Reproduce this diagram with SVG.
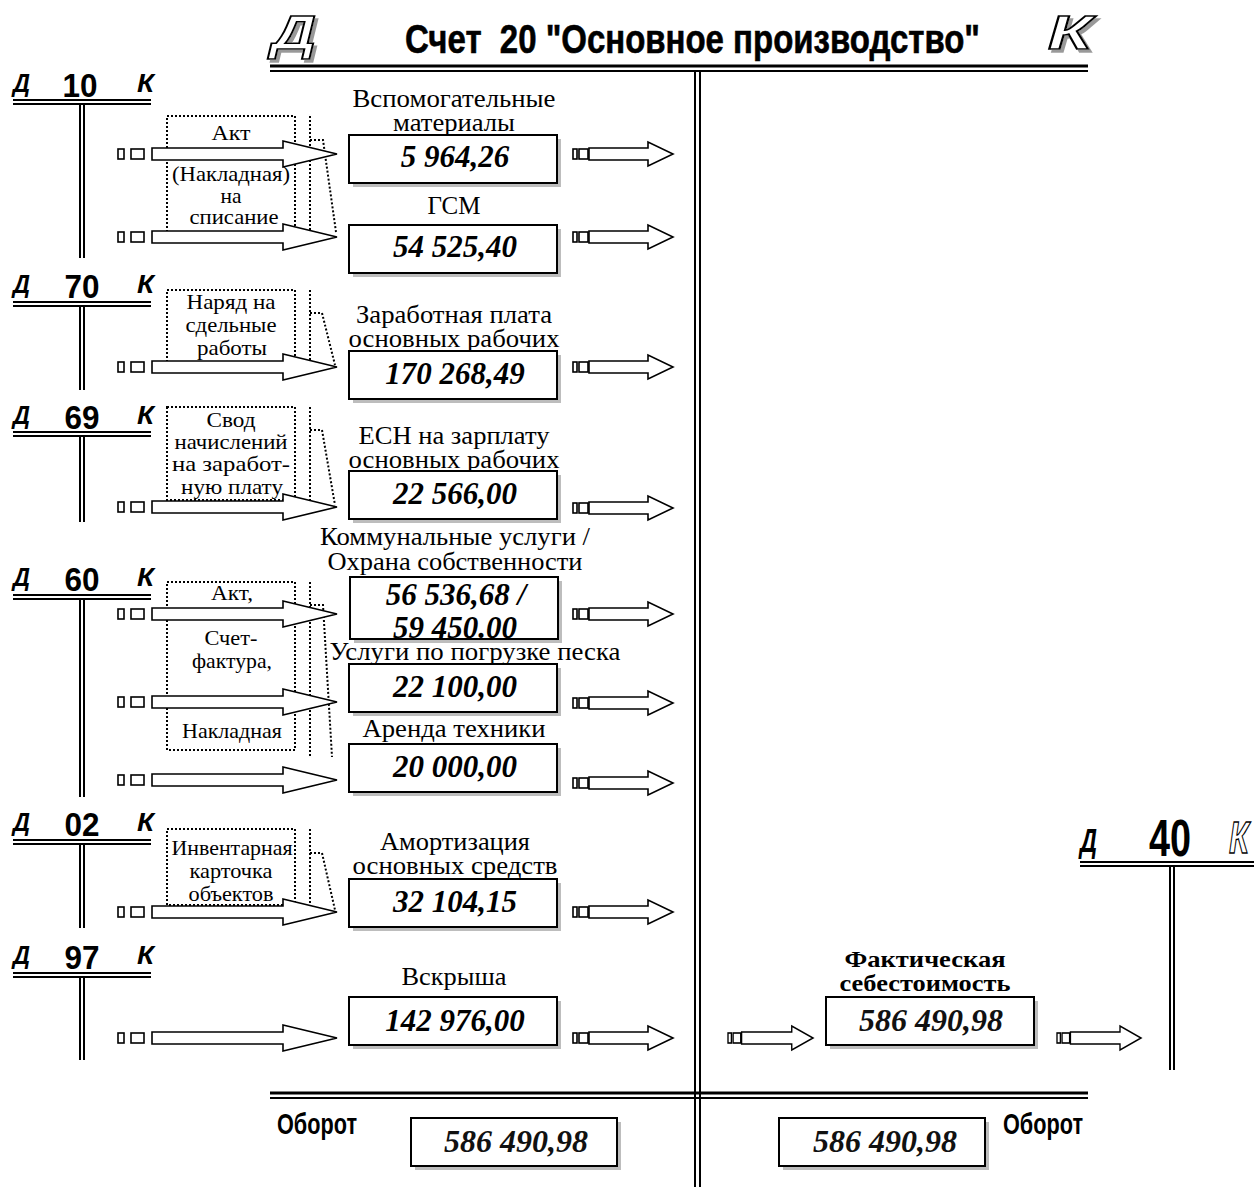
<svg xmlns="http://www.w3.org/2000/svg" xmlns:xlink="http://www.w3.org/1999/xlink" width="1254" height="1187" viewBox="0 0 1254 1187">
<style>
.lbl{font-family:"Liberation Serif","Times New Roman",serif;font-size:25px;text-anchor:middle;fill:#000}
.doc{font-family:"Liberation Serif","Times New Roman",serif;font-size:21px;text-anchor:middle;fill:#000}
.val{font-family:"Liberation Serif","Times New Roman",serif;font-size:31px;font-weight:bold;font-style:italic;text-anchor:middle;fill:#000}
.tot{font-family:"Liberation Serif","Times New Roman",serif;font-size:32px;font-style:italic;font-weight:bold;text-anchor:middle;fill:#111}
.bl{font-family:"Liberation Serif","Times New Roman",serif;font-size:23px;font-weight:bold;text-anchor:middle;fill:#000}
.dk{font-family:"Liberation Sans Narrow","Liberation Sans",Arial,sans-serif;font-size:26px;font-weight:bold;font-style:italic;fill:#000}
.num{font-family:"Liberation Sans Narrow","Liberation Sans",Arial,sans-serif;font-size:33px;font-weight:bold;text-anchor:middle;fill:#000}
.hol{font-family:"Liberation Sans","Arial",sans-serif;font-size:48px;font-style:italic;font-weight:bold;fill:#fff;stroke:#000;stroke-width:1.6}
.ttl{font-family:"Liberation Sans Narrow","Liberation Sans",Arial,sans-serif;font-size:40px;font-weight:bold;fill:#000;stroke:#000;stroke-width:0.6}
.obo{font-family:"Liberation Sans Narrow","Liberation Sans",Arial,sans-serif;font-size:30px;font-weight:bold;fill:#000}
.ln{stroke:#000;stroke-width:2;fill:none}
.dot{stroke:#000;stroke-width:2;stroke-dasharray:2 2;fill:none}
.box{fill:#fff;stroke:#000;stroke-width:2}
.shd{fill:#bdbdbd}
.arr{fill:#fff;stroke:#000;stroke-width:1.6}
</style>
<defs>
<filter id="dropShadow" x="-20%" y="-20%" width="150%" height="150%">
<feOffset in="SourceAlpha" dx="3" dy="3" result="off"/>
<feFlood flood-color="#999"/>
<feComposite in2="off" operator="in" result="sh"/>
<feMerge><feMergeNode in="sh"/><feMergeNode in="SourceGraphic"/></feMerge>
</filter>
<g id="bigArrow">
<rect class="arr" x="0" y="-5" width="6" height="10"/>
<rect class="arr" x="13" y="-5" width="13" height="10"/>
<polygon class="arr" points="34,-6 165,-6 165,-13 219,0 165,13 165,6 34,6"/>
</g>
<g id="smallArrow">
<rect class="arr" x="0" y="-5" width="4" height="10"/>
<rect class="arr" x="6" y="-5" width="9" height="10"/>
<polygon class="arr" points="16,-6 75,-6 75,-12 100,0 75,12 75,6 16,6"/>
</g>
</defs>
<rect width="1254" height="1187" fill="#fff"/>

<!-- Header -->
<g id="header">
<text class="hol" x="272" y="49" filter="url(#dropShadow)" textLength="44" lengthAdjust="spacingAndGlyphs">Д</text>
<text class="ttl" x="405" y="53" textLength="575" lengthAdjust="spacingAndGlyphs" xml:space="preserve">Счет  20 "Основное производство"</text>
<text class="hol" x="1048" y="49" filter="url(#dropShadow)" textLength="44" lengthAdjust="spacingAndGlyphs">К</text>
</g>

<!-- Account 20 T -->
<g id="account20">
<line class="ln" x1="270" y1="66" x2="1088" y2="66" style="stroke-width:3"/>
<line class="ln" x1="270" y1="71" x2="1088" y2="71"/>
<line class="ln" x1="695" y1="72" x2="695" y2="1187"/>
<line class="ln" x1="700" y1="72" x2="700" y2="1187"/>
<line class="ln" x1="270" y1="1093" x2="1088" y2="1093" style="stroke-width:3"/>
<line class="ln" x1="270" y1="1098" x2="1088" y2="1098"/>
</g>

<!-- Left T accounts -->
<g id="acc10">
<text class="dk" x="13" y="92" textLength="17" lengthAdjust="spacingAndGlyphs">Д</text>
<text class="num" x="80" y="97" textLength="35" lengthAdjust="spacingAndGlyphs">10</text>
<text class="dk" x="137" y="92" textLength="17" lengthAdjust="spacingAndGlyphs">К</text>
<line class="ln" x1="13" y1="100" x2="151" y2="100"/>
<line class="ln" x1="13" y1="104" x2="151" y2="104"/>
<line class="ln" x1="80" y1="104" x2="80" y2="258"/>
<line class="ln" x1="84" y1="104" x2="84" y2="258"/>
</g>
<g id="acc70">
<text class="dk" x="13" y="293" textLength="17" lengthAdjust="spacingAndGlyphs">Д</text>
<text class="num" x="82" y="298" textLength="35" lengthAdjust="spacingAndGlyphs">70</text>
<text class="dk" x="137" y="293" textLength="17" lengthAdjust="spacingAndGlyphs">К</text>
<line class="ln" x1="13" y1="302" x2="151" y2="302"/>
<line class="ln" x1="13" y1="306" x2="151" y2="306"/>
<line class="ln" x1="80" y1="306" x2="80" y2="390"/>
<line class="ln" x1="84" y1="306" x2="84" y2="390"/>
</g>
<g id="acc69">
<text class="dk" x="13" y="424" textLength="17" lengthAdjust="spacingAndGlyphs">Д</text>
<text class="num" x="82" y="429" textLength="35" lengthAdjust="spacingAndGlyphs">69</text>
<text class="dk" x="137" y="424" textLength="17" lengthAdjust="spacingAndGlyphs">К</text>
<line class="ln" x1="13" y1="432" x2="151" y2="432"/>
<line class="ln" x1="13" y1="436" x2="151" y2="436"/>
<line class="ln" x1="80" y1="436" x2="80" y2="522"/>
<line class="ln" x1="84" y1="436" x2="84" y2="522"/>
</g>
<g id="acc60">
<text class="dk" x="13" y="586" textLength="17" lengthAdjust="spacingAndGlyphs">Д</text>
<text class="num" x="82" y="591" textLength="35" lengthAdjust="spacingAndGlyphs">60</text>
<text class="dk" x="137" y="586" textLength="17" lengthAdjust="spacingAndGlyphs">К</text>
<line class="ln" x1="13" y1="595" x2="151" y2="595"/>
<line class="ln" x1="13" y1="599" x2="151" y2="599"/>
<line class="ln" x1="80" y1="599" x2="80" y2="797"/>
<line class="ln" x1="84" y1="599" x2="84" y2="797"/>
</g>
<g id="acc02">
<text class="dk" x="13" y="831" textLength="17" lengthAdjust="spacingAndGlyphs">Д</text>
<text class="num" x="82" y="836" textLength="35" lengthAdjust="spacingAndGlyphs">02</text>
<text class="dk" x="137" y="831" textLength="17" lengthAdjust="spacingAndGlyphs">К</text>
<line class="ln" x1="13" y1="840" x2="151" y2="840"/>
<line class="ln" x1="13" y1="844" x2="151" y2="844"/>
<line class="ln" x1="80" y1="844" x2="80" y2="928"/>
<line class="ln" x1="84" y1="844" x2="84" y2="928"/>
</g>
<g id="acc97">
<text class="dk" x="13" y="964" textLength="17" lengthAdjust="spacingAndGlyphs">Д</text>
<text class="num" x="82" y="969" textLength="35" lengthAdjust="spacingAndGlyphs">97</text>
<text class="dk" x="137" y="964" textLength="17" lengthAdjust="spacingAndGlyphs">К</text>
<line class="ln" x1="13" y1="973" x2="151" y2="973"/>
<line class="ln" x1="13" y1="977" x2="151" y2="977"/>
<line class="ln" x1="80" y1="977" x2="80" y2="1060"/>
<line class="ln" x1="84" y1="977" x2="84" y2="1060"/>
</g>

<!-- Account 40 -->
<g id="acc40">
<text class="dk" x="1080" y="852" style="font-size:34px" textLength="17" lengthAdjust="spacingAndGlyphs">Д</text>
<text class="num" x="1170" y="856" style="font-size:52px" textLength="42" lengthAdjust="spacingAndGlyphs">40</text>
<text class="hol" x="1229" y="853" style="font-size:44px;stroke-width:1.3" textLength="20" lengthAdjust="spacingAndGlyphs">К</text>
<line class="ln" x1="1080" y1="862" x2="1254" y2="862"/>
<line class="ln" x1="1080" y1="866" x2="1254" y2="866"/>
<line class="ln" x1="1170" y1="866" x2="1170" y2="1070"/>
<line class="ln" x1="1174" y1="866" x2="1174" y2="1070"/>
</g>

<!-- Documents -->
<g id="doc10">
<rect class="dot" x="167" y="116" width="128" height="116"/>
<polyline class="dot" points="310,116 310,232"/>
<polyline class="dot" points="310,140 323,140 336,232"/>
<text class="doc" x="231" y="140" textLength="39" lengthAdjust="spacingAndGlyphs">Акт</text>
<text class="doc" x="231" y="181" textLength="118" lengthAdjust="spacingAndGlyphs">(Накладная)</text>
<text class="doc" x="231" y="203" textLength="21" lengthAdjust="spacingAndGlyphs">на</text>
<text class="doc" x="234" y="224" textLength="89" lengthAdjust="spacingAndGlyphs">списание</text>
</g>
<g id="doc70">
<rect class="dot" x="167" y="290" width="128" height="72"/>
<polyline class="dot" points="310,290 310,362"/>
<polyline class="dot" points="310,313 322,313 335,365"/>
<text class="doc" x="231" y="309" textLength="89" lengthAdjust="spacingAndGlyphs">Наряд на</text>
<text class="doc" x="231" y="332" textLength="91" lengthAdjust="spacingAndGlyphs">сдельные</text>
<text class="doc" x="232" y="355" textLength="70" lengthAdjust="spacingAndGlyphs">работы</text>
</g>
<g id="doc69">
<rect class="dot" x="167" y="407" width="128" height="93"/>
<polyline class="dot" points="310,407 310,500"/>
<polyline class="dot" points="310,430 322,430 335,505"/>
<text class="doc" x="231" y="427" textLength="49" lengthAdjust="spacingAndGlyphs">Свод</text>
<text class="doc" x="231" y="449" textLength="113" lengthAdjust="spacingAndGlyphs">начислений</text>
<text class="doc" x="231" y="471" textLength="118" lengthAdjust="spacingAndGlyphs">на заработ-</text>
<text class="doc" x="232" y="494" textLength="102" lengthAdjust="spacingAndGlyphs">ную плату</text>
</g>
<g id="doc60">
<rect class="dot" x="167" y="582" width="128" height="168"/>
<polyline class="dot" points="310,582 310,757"/>
<polyline class="dot" points="310,605 323,605 332,757"/>
<text class="doc" x="232" y="600" textLength="42" lengthAdjust="spacingAndGlyphs">Акт,</text>
<text class="doc" x="231" y="645" textLength="53" lengthAdjust="spacingAndGlyphs">Счет-</text>
<text class="doc" x="232" y="668" textLength="80" lengthAdjust="spacingAndGlyphs">фактура,</text>
<text class="doc" x="232" y="738" textLength="100" lengthAdjust="spacingAndGlyphs">Накладная</text>
</g>
<g id="doc02">
<rect class="dot" x="167" y="829" width="128" height="76"/>
<polyline class="dot" points="310,829 310,905"/>
<polyline class="dot" points="310,853 322,853 335,910"/>
<text class="doc" x="232" y="855" textLength="121" lengthAdjust="spacingAndGlyphs">Инвентарная</text>
<text class="doc" x="231" y="878" textLength="83" lengthAdjust="spacingAndGlyphs">карточка</text>
<text class="doc" x="231" y="901" textLength="85" lengthAdjust="spacingAndGlyphs">объектов</text>
</g>

<!-- Connectors -->
<g id="connectors">
<use xlink:href="#bigArrow" transform="translate(118,154)"/>
<use xlink:href="#bigArrow" transform="translate(118,237)"/>
<use xlink:href="#bigArrow" transform="translate(118,367)"/>
<use xlink:href="#bigArrow" transform="translate(118,507)"/>
<use xlink:href="#bigArrow" transform="translate(118,614)"/>
<use xlink:href="#bigArrow" transform="translate(118,702)"/>
<use xlink:href="#bigArrow" transform="translate(118,780)"/>
<use xlink:href="#bigArrow" transform="translate(118,912)"/>
<use xlink:href="#bigArrow" transform="translate(118,1038)"/>
<use xlink:href="#smallArrow" transform="translate(573,154)"/>
<use xlink:href="#smallArrow" transform="translate(573,237)"/>
<use xlink:href="#smallArrow" transform="translate(573,367)"/>
<use xlink:href="#smallArrow" transform="translate(573,508)"/>
<use xlink:href="#smallArrow" transform="translate(573,614)"/>
<use xlink:href="#smallArrow" transform="translate(573,703)"/>
<use xlink:href="#smallArrow" transform="translate(573,783)"/>
<use xlink:href="#smallArrow" transform="translate(573,912)"/>
<use xlink:href="#smallArrow" transform="translate(573,1038)"/>
<use xlink:href="#smallArrow" transform="translate(728,1038) scale(0.85,1)"/>
<use xlink:href="#smallArrow" transform="translate(1057,1038) scale(0.84,1)"/>
</g>

<!-- Cost boxes -->
<g id="n1">
<text class="lbl" x="454" y="107" textLength="203" lengthAdjust="spacingAndGlyphs">Вспомогательные</text>
<text class="lbl" x="454" y="131" textLength="122" lengthAdjust="spacingAndGlyphs">материалы</text>
<rect class="shd" x="353" y="139" width="208" height="48"/>
<rect class="box" x="349" y="135" width="208" height="48"/>
<text class="val" x="455" y="167">5 964,26</text>
</g>
<g id="n2">
<text class="lbl" x="454" y="214">ГСМ</text>
<rect class="shd" x="353" y="229" width="208" height="48"/>
<rect class="box" x="349" y="225" width="208" height="48"/>
<text class="val" x="455" y="257">54 525,40</text>
</g>
<g id="n3">
<text class="lbl" x="454" y="323" textLength="196" lengthAdjust="spacingAndGlyphs">Заработная плата</text>
<text class="lbl" x="454" y="347" textLength="211" lengthAdjust="spacingAndGlyphs">основных рабочих</text>
<rect class="shd" x="353" y="355" width="208" height="48"/>
<rect class="box" x="349" y="351" width="208" height="48"/>
<text class="val" x="455" y="384">170 268,49</text>
</g>
<g id="n4">
<text class="lbl" x="454" y="444" textLength="191" lengthAdjust="spacingAndGlyphs">ЕСН на зарплату</text>
<text class="lbl" x="454" y="468" textLength="211" lengthAdjust="spacingAndGlyphs">основных рабочих</text>
<rect class="shd" x="353" y="475" width="208" height="48"/>
<rect class="box" x="349" y="471" width="208" height="48"/>
<text class="val" x="455" y="504">22 566,00</text>
</g>
<g id="n5">
<text class="lbl" x="455" y="545" textLength="270" lengthAdjust="spacingAndGlyphs">Коммунальные услуги /</text>
<text class="lbl" x="455" y="570" textLength="255" lengthAdjust="spacingAndGlyphs">Охрана собственности</text>
<rect class="shd" x="354" y="581" width="208" height="62"/>
<rect class="box" x="350" y="577" width="208" height="62"/>
<text class="val" x="456" y="605">56 536,68 /</text>
<text class="val" x="455" y="638">59 450.00</text>
</g>
<g id="n6">
<text class="lbl" x="475" y="660" textLength="291" lengthAdjust="spacingAndGlyphs">Услуги по погрузке песка</text>
<rect class="shd" x="353" y="668" width="208" height="48"/>
<rect class="box" x="349" y="664" width="208" height="48"/>
<text class="val" x="455" y="697">22 100,00</text>
</g>
<g id="n7">
<text class="lbl" x="454" y="737" textLength="183" lengthAdjust="spacingAndGlyphs">Аренда техники</text>
<rect class="shd" x="353" y="748" width="208" height="48"/>
<rect class="box" x="349" y="744" width="208" height="48"/>
<text class="val" x="455" y="777">20 000,00</text>
</g>
<g id="n8">
<text class="lbl" x="455" y="850" textLength="150" lengthAdjust="spacingAndGlyphs">Амортизация</text>
<text class="lbl" x="455" y="874" textLength="205" lengthAdjust="spacingAndGlyphs">основных средств</text>
<rect class="shd" x="353" y="883" width="208" height="48"/>
<rect class="box" x="349" y="879" width="208" height="48"/>
<text class="val" x="455" y="912">32 104,15</text>
</g>
<g id="n9">
<text class="lbl" x="454" y="985" textLength="105" lengthAdjust="spacingAndGlyphs">Вскрыша</text>
<rect class="shd" x="353" y="1001" width="208" height="48"/>
<rect class="box" x="349" y="997" width="208" height="48"/>
<text class="val" x="455" y="1031">142 976,00</text>
</g>

<!-- Actual cost -->
<g id="n10">
<text class="bl" x="925" y="967" textLength="161" lengthAdjust="spacingAndGlyphs">Фактическая</text>
<text class="bl" x="925" y="991" textLength="171" lengthAdjust="spacingAndGlyphs">себестоимость</text>
<rect class="shd" x="830" y="1001" width="208" height="48"/>
<rect class="box" x="826" y="997" width="208" height="48"/>
<text class="tot" x="931" y="1031">586 490,98</text>
</g>

<!-- Turnover -->
<g id="turnoverDebit">
<text class="obo" x="277" y="1134" textLength="80" lengthAdjust="spacingAndGlyphs">Оборот</text>
<rect class="shd" x="415" y="1122" width="206" height="48"/>
<rect class="box" x="411" y="1118" width="206" height="48"/>
<text class="tot" x="516" y="1152">586 490,98</text>
</g>
<g id="turnoverCredit">
<text class="obo" x="1003" y="1134" textLength="80" lengthAdjust="spacingAndGlyphs">Оборот</text>
<rect class="shd" x="783" y="1122" width="206" height="48"/>
<rect class="box" x="779" y="1118" width="206" height="48"/>
<text class="tot" x="885" y="1152">586 490,98</text>
</g>
</svg>
